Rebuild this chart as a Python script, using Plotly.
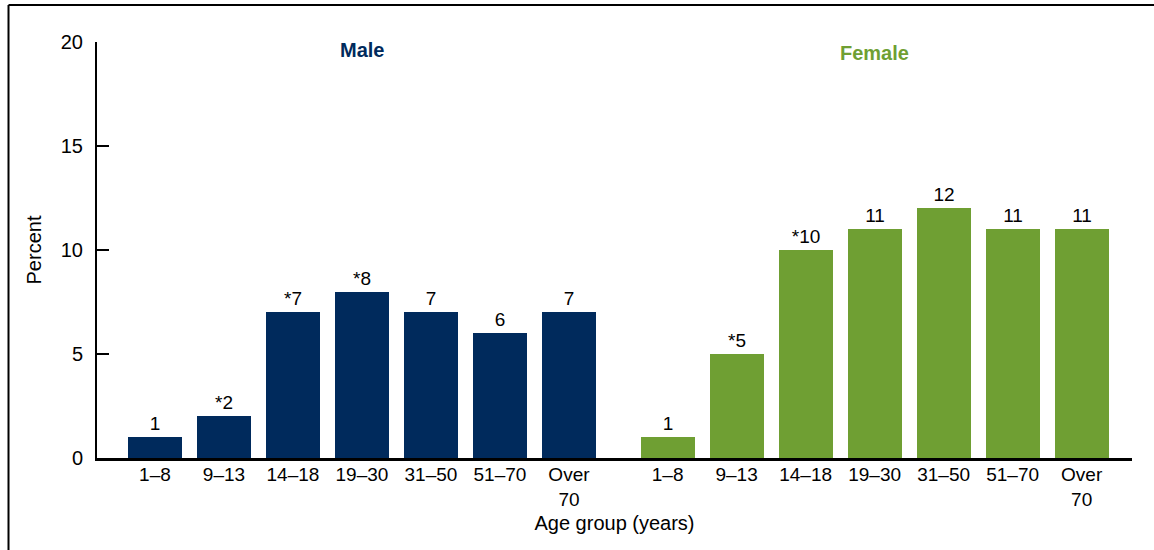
import plotly.graph_objects as go

age_groups = ["1–8", "9–13", "14–18", "19–30", "31–50", "51–70", "Over<br>70"]
male_values = [1, 2, 7, 8, 7, 6, 7]
male_labels = ["1", "*2", "*7", "*8", "7", "6", "7"]
female_values = [1, 5, 10, 11, 12, 11, 11]
female_labels = ["1", "*5", "*10", "11", "12", "11", "11"]

NAVY = "#002a5c"
GREEN = "#6f9f33"
GROUP_OFFSET = 7.43

male_x = [i for i in range(len(age_groups))]
female_x = [i + GROUP_OFFSET for i in range(len(age_groups))]

font = dict(family="Liberation Sans, Arial, sans-serif", size=19, color="black")

fig = go.Figure()
fig.add_trace(go.Bar(x=male_x, y=male_values, text=male_labels, textposition="outside",
                     marker=dict(color=NAVY, line=dict(width=0)), width=0.78,
                     textfont=dict(size=19, color="black"), cliponaxis=False, showlegend=False))
fig.add_trace(go.Bar(x=female_x, y=female_values, text=female_labels, textposition="outside",
                     marker=dict(color=GREEN, line=dict(width=0)), width=0.78,
                     textfont=dict(size=19, color="black"), cliponaxis=False, showlegend=False))

fig.update_layout(
    width=1154, height=550,
    margin=dict(l=97, r=22, t=42, b=92),
    plot_bgcolor="white", paper_bgcolor="white",
    font=font,
    xaxis=dict(range=[-0.84, 14.16], tickvals=male_x + female_x, ticktext=age_groups + age_groups,
               showline=True, linecolor="black", linewidth=3, ticks="", showgrid=False,
               zeroline=False, tickfont=dict(size=19), automargin=False,
               ticklabelstandoff=-3,
               title=dict(text="Age group (years)", font=dict(size=20), standoff=8)),
    yaxis=dict(range=[0, 20], tickvals=[0, 5, 10, 15, 20], showline=True, linecolor="black",
               linewidth=2, ticks="inside", ticklen=12, tickwidth=2, tickcolor="black",
               showgrid=False, zeroline=False, tickfont=dict(size=20), automargin=False,
               ticklabelstandoff=8,
               title=dict(text="Percent", font=dict(size=20), standoff=14)),
    bargap=0,
)

fig.add_annotation(x=3, y=19.6, xref="x", yref="y", text="<b>Male</b>", showarrow=False,
                   font=dict(size=20, color=NAVY))
fig.add_annotation(x=3 + GROUP_OFFSET, y=19.45, xref="x", yref="y", text="<b>Female</b>",
                   showarrow=False, font=dict(size=20, color=GREEN))

# frame lines (left and top)
fig.add_shape(type="line", xref="paper", yref="paper", x0=-0.0855, x1=-0.0855, y0=1.089, y1=-0.23,
              line=dict(color="black", width=2))
fig.add_shape(type="line", xref="paper", yref="paper", x0=-0.0855, x1=1.03, y0=1.089, y1=1.089,
              line=dict(color="black", width=2))

fig.write_html("out.html", config={"displayModeBar": False},
               post_script="document.body.style.margin='0px';")
